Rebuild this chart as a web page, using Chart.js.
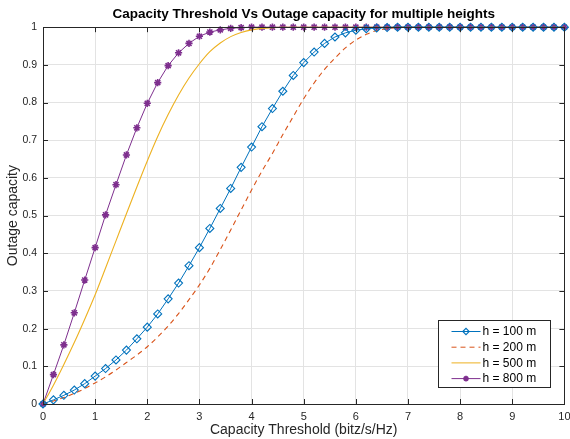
<!DOCTYPE html>
<html>
<head>
<meta charset="utf-8">
<script src="https://cdn.jsdelivr.net/npm/chart.js@4/dist/chart.umd.min.js"></script>
<style>
  html, body { margin: 0; padding: 0; background: #fff; }
  #wrap { width: 570px; height: 439px; }
</style>
</head>
<body>
<div id="wrap"><canvas id="grafico"></canvas></div>
<script>
// valores (x de 0 a 10 em passos de 0.2)
const limiar = [0, 0.2, 0.4, 0.6, 0.8, 1, 1.2, 1.4, 1.6, 1.8, 2, 2.2, 2.4, 2.6, 2.8, 3, 3.2, 3.4, 3.6, 3.8,
  4, 4.2, 4.4, 4.6, 4.8, 5, 5.2, 5.4, 5.6, 5.8, 6, 6.2, 6.4, 6.6, 6.8, 7, 7.2, 7.4, 7.6, 7.8,
  8, 8.2, 8.4, 8.6, 8.8, 9, 9.2, 9.4, 9.6, 9.8, 10];

const h100 = [0, 0.011, 0.023, 0.037, 0.054, 0.074, 0.094, 0.117, 0.143, 0.173, 0.204, 0.239, 0.279, 0.321, 0.367,
  0.415, 0.466, 0.519, 0.572, 0.628, 0.682, 0.736, 0.784, 0.83, 0.872, 0.906, 0.934, 0.957, 0.974, 0.985,
  0.992, 0.996, 0.998, 0.999, 1, 1, 1, 1, 1, 1, 1, 1, 1, 1, 1, 1, 1, 1, 1, 1, 1];

const h200 = [0, 0.008, 0.017, 0.028, 0.041, 0.056, 0.072, 0.09, 0.11, 0.13, 0.152, 0.178, 0.207, 0.24, 0.277,
  0.316, 0.36, 0.41, 0.462, 0.515, 0.568, 0.618, 0.665, 0.715, 0.763, 0.81, 0.852, 0.888, 0.918, 0.945,
  0.966, 0.981, 0.991, 0.996, 0.999, 1, 1, 1, 1, 1, 1, 1, 1, 1, 1, 1, 1, 1, 1, 1, 1];

const h500 = [0, 0.05, 0.105, 0.163, 0.225, 0.29, 0.361, 0.433, 0.505, 0.576, 0.645, 0.71, 0.768, 0.82, 0.865,
  0.903, 0.935, 0.958, 0.975, 0.986, 0.993, 0.997, 0.999, 1, 1, 1, 1, 1, 1, 1,
  1, 1, 1, 1, 1, 1, 1, 1, 1, 1, 1, 1, 1, 1, 1, 1, 1, 1, 1, 1, 1];

const h800 = [0, 0.078, 0.157, 0.242, 0.329, 0.415, 0.502, 0.582, 0.661, 0.733, 0.798, 0.853, 0.898, 0.932, 0.957,
  0.976, 0.987, 0.993, 0.997, 0.999, 1, 1, 1, 1, 1, 1, 1, 1, 1, 1,
  1, 1, 1, 1, 1, 1, 1, 1, 1, 1, 1, 1, 1, 1, 1, 1, 1, 1, 1, 1, 1];

const rotulos = ['h = 100 m', 'h = 200 m', 'h = 500 m', 'h = 800 m'];
const ticksX = [0, 1, 2, 3, 4, 5, 6, 7, 8, 9, 10];
const ticksY = [0, 0.1, 0.2, 0.3, 0.4, 0.5, 0.6, 0.7, 0.8, 0.9, 1];

const fonte = '"Liberation Sans", Arial, Helvetica, sans-serif';
const corEixo = '#262626';

function pontos(serie) {
  return limiar.map((x, i) => ({ x: x, y: serie[i] }));
}

// caixa em volta da área e ticks para dentro, estilo MATLAB
const caixaPlugin = {
  id: 'caixa',
  afterDatasetsDraw(chart) {
    const { ctx, chartArea: a, scales } = chart;
    ctx.save();
    ctx.strokeStyle = corEixo;
    ctx.lineWidth = 1;
    ctx.beginPath();
    ticksX.forEach(v => {
      const px = Math.round(scales.x.getPixelForValue(v)) + 0.5;
      ctx.moveTo(px, a.bottom); ctx.lineTo(px, a.bottom - 5);
      ctx.moveTo(px, a.top); ctx.lineTo(px, a.top + 5);
    });
    ticksY.forEach(v => {
      const py = Math.round(scales.y.getPixelForValue(v)) + 0.5;
      ctx.moveTo(a.left, py); ctx.lineTo(a.left + 5, py);
      ctx.moveTo(a.right, py); ctx.lineTo(a.right - 5, py);
    });
    ctx.stroke();
    ctx.strokeRect(Math.round(a.left) + 0.5, Math.round(a.top) + 0.5,
      Math.round(a.right - a.left), Math.round(a.bottom - a.top));
    ctx.restore();
  }
};

// legenda dentro do gráfico, canto inferior direito
const legendaPlugin = {
  id: 'legendaInterna',
  afterDraw(chart) {
    const { ctx, chartArea: a } = chart;
    const w = 112, h = 67;
    const x0 = Math.round(a.right - 14 - w) + 0.5;
    const y0 = Math.round(a.bottom - 17 - h) + 0.5;
    ctx.save();
    ctx.fillStyle = '#fff';
    ctx.fillRect(x0, y0, w, h);
    ctx.strokeStyle = corEixo;
    ctx.lineWidth = 1;
    ctx.strokeRect(x0, y0, w, h);
    ctx.font = '12px ' + fonte;
    ctx.textBaseline = 'middle';
    chart.data.datasets.forEach((ds, i) => {
      const y = y0 + 11 + i * 15.7;
      ctx.strokeStyle = ds.borderColor;
      ctx.lineWidth = 1;
      ctx.setLineDash(ds.borderDash || []);
      ctx.beginPath();
      ctx.moveTo(x0 + 13, y);
      ctx.lineTo(x0 + 42, y);
      ctx.stroke();
      ctx.setLineDash([]);
      if (ds.pointRadius > 0) {
        ctx.fillStyle = ds.pointBackgroundColor;
        ctx.strokeStyle = ds.borderColor;
        ctx.lineWidth = ds.pointBorderWidth;
        Chart.helpers.drawPoint(ctx, {
          pointStyle: ds.pointStyle,
          radius: ds.pointRadius * 0.8,
          borderWidth: ds.pointBorderWidth,
          rotation: 0
        }, x0 + 27.5, y);
      }
      ctx.fillStyle = '#000';
      ctx.fillText(ds.label, x0 + 44, y + 0.5);
    });
    ctx.restore();
  }
};

const datasets = [
  {
    label: rotulos[0], data: pontos(h100),
    borderColor: '#0072BD', borderWidth: 1,
    pointStyle: 'rectRot', pointRadius: 4, pointBorderWidth: 1.1,
    pointBackgroundColor: 'rgba(0,0,0,0)', pointBorderColor: '#0072BD'
  },
  {
    label: rotulos[1], data: pontos(h200),
    borderColor: '#D95319', borderWidth: 1.1, borderDash: [5, 4],
    pointRadius: 0, cubicInterpolationMode: 'monotone'
  },
  {
    label: rotulos[2], data: pontos(h500),
    borderColor: '#EDB120', borderWidth: 1.1,
    pointRadius: 0, cubicInterpolationMode: 'monotone'
  },
  {
    label: rotulos[3], data: pontos(h800),
    borderColor: '#7E2F8E', borderWidth: 1,
    pointStyle: 'star', pointRadius: 3.6, pointBorderWidth: 1.6,
    pointBackgroundColor: '#7E2F8E', pointBorderColor: '#7E2F8E'
  }
];

new Chart(document.getElementById('grafico'), {
  type: 'line',
  data: { datasets: datasets },
  plugins: [caixaPlugin, legendaPlugin],
  options: {
    responsive: true,
    maintainAspectRatio: false,
    animation: false,
    layout: { padding: { left: 0, right: 4, top: 0, bottom: 0 } },
    elements: { line: { tension: 0, fill: false } },
    datasets: { line: { clip: false } },
    plugins: {
      legend: { display: false },
      tooltip: { enabled: false },
      title: {
        display: true,
        fullSize: false,
        text: 'Capacity Threshold Vs Outage capacity for multiple heights',
        color: '#000',
        font: { family: fonte, size: 13.5, weight: 'bold' },
        padding: { top: 6, bottom: 5 }
      }
    },
    scales: {
      x: {
        type: 'linear', min: 0, max: 10,
        afterBuildTicks: s => { s.ticks = ticksX.map(v => ({ value: v })); },
        afterFit: s => { s.height = 35; s.paddingRight = 0; s.paddingLeft = 0; },
        grid: { color: '#e3e3e3', drawTicks: false },
        border: { display: false },
        ticks: { color: corEixo, font: { family: fonte, size: 11 }, padding: 6, maxRotation: 0 },
        title: {
          display: true, text: 'Capacity Threshold (bitz/s/Hz)', color: corEixo,
          font: { family: fonte, size: 14 }, padding: { top: 0, bottom: 0 }
        }
      },
      y: {
        type: 'linear', min: 0, max: 1,
        afterBuildTicks: s => { s.ticks = ticksY.map(v => ({ value: v })); },
        afterFit: s => { s.width = 43; },
        grid: { color: '#e3e3e3', drawTicks: false },
        border: { display: false },
        ticks: { color: corEixo, font: { family: fonte, size: 10.5 }, padding: 6,
          callback: v => String(Math.round(v * 10) / 10) },
        title: {
          display: true, text: 'Outage capacity', color: corEixo,
          font: { family: fonte, size: 14 }, padding: { top: 5, bottom: 0 }
        }
      }
    }
  }
});
</script>
</body>
</html>
